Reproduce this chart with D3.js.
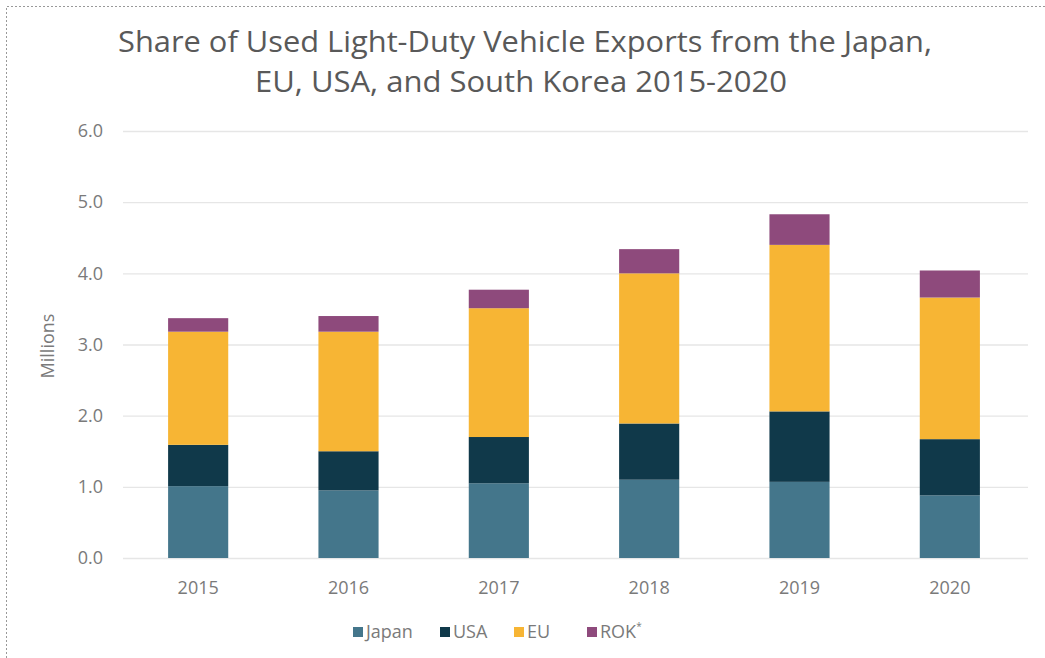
<!DOCTYPE html>
<html><head><meta charset="utf-8">
<script src="https://cdn.jsdelivr.net/npm/d3@7"></script>
<style>body{margin:0;background:#fff}svg{display:block}</style>
</head><body>
<svg id="c" width="1045" height="658"></svg>
<script>
const years = ["2015","2016","2017","2018","2019","2020"];
const seriesNames = ["Japan","USA","EU","ROK"];
const japan = [1.01, 0.95, 1.05, 1.10, 1.07, 0.88];
const usa   = [0.58, 0.55, 0.65, 0.79, 0.99, 0.79];
const eu    = [1.59, 1.68, 1.81, 2.11, 2.34, 1.99];
const rok   = [0.19, 0.22, 0.26, 0.34, 0.43, 0.38];
const yTicks = [0,1,2,3,4,5,6];
const colors = ["#44768b","#10394a","#f7b534","#8e4a7c"];

const svg = d3.select("#c");
const font = "'Open Sans', sans-serif";
const grey = "#7a7a7a";

// border
svg.append("path").attr("d","M6.5,658 V6.5 H1045").attr("fill","none")
  .attr("stroke","#999").attr("stroke-width",1).attr("stroke-dasharray","2,2");

const data = years.map((y,i)=>({year:y, Japan:japan[i], USA:usa[i], EU:eu[i], ROK:rok[i]}));
const stack = d3.stack().keys(seriesNames)(data);

const x = d3.scaleBand().domain(years).range([123,1025]).paddingInner(0.6).paddingOuter(0.3);
const y = d3.scaleLinear().domain([0,6]).range([558,131]);

// grid
svg.append("g").selectAll("line").data(yTicks).join("line")
  .attr("x1",123).attr("x2",1028).attr("y1",d=>y(d)+0.5).attr("y2",d=>y(d)+0.5)
  .attr("stroke","#e6e6e6").attr("stroke-width",1.3);

// y axis labels
const ya = svg.append("g").attr("transform","translate(106,0)")
  .call(d3.axisLeft(y).tickValues(yTicks).tickFormat(d3.format(".1f")).tickSize(0));
ya.select(".domain").remove();
ya.selectAll("text").attr("font-family",font).attr("font-size",18).attr("fill",grey);

// bars
svg.append("g").selectAll("g").data(stack).join("g")
  .attr("fill",(d,i)=>colors[i])
  .selectAll("rect").data(d=>d).join("rect")
  .attr("x",d=>x(d.data.year)).attr("width",x.bandwidth())
  .attr("y",d=>y(d[1])).attr("height",d=>y(d[0])-y(d[1]));

// x axis
const xa = svg.append("g").attr("transform","translate(0,578)")
  .call(d3.axisBottom(x).tickSize(0));
xa.select(".domain").remove();
xa.selectAll("text").attr("font-family",font).attr("font-size",18).attr("fill",grey);

// y title
svg.append("text").attr("transform","translate(54,346) rotate(-90)")
  .attr("text-anchor","middle").attr("font-family",font).attr("font-size",18).attr("fill",grey)
  .text("Millions");

// title
const t = svg.append("text").attr("text-anchor","middle").attr("font-family",font)
  .attr("font-size",29).attr("fill","#595959");
t.append("tspan").attr("x",525).attr("y",52).attr("textLength",814).attr("lengthAdjust","spacingAndGlyphs")
  .text("Share of Used Light-Duty Vehicle Exports from the Japan,");
t.append("tspan").attr("x",521).attr("y",92).attr("textLength",532).attr("lengthAdjust","spacingAndGlyphs")
  .text("EU, USA, and South Korea 2015-2020");

// legend
const legX = [353, 440, 514, 587];
const lg = svg.append("g");
seriesNames.forEach((s,i)=>{
  lg.append("rect").attr("x",legX[i]).attr("y",627).attr("width",10).attr("height",10).attr("fill",colors[i]);
  const tx = lg.append("text").attr("x",legX[i]+13).attr("y",638).attr("font-family",font)
    .attr("font-size",18).attr("fill",grey).text(s);
  if (s==="ROK") tx.append("tspan").attr("font-size",10).attr("dy",-8).text("*");
});
</script>
</body></html>
